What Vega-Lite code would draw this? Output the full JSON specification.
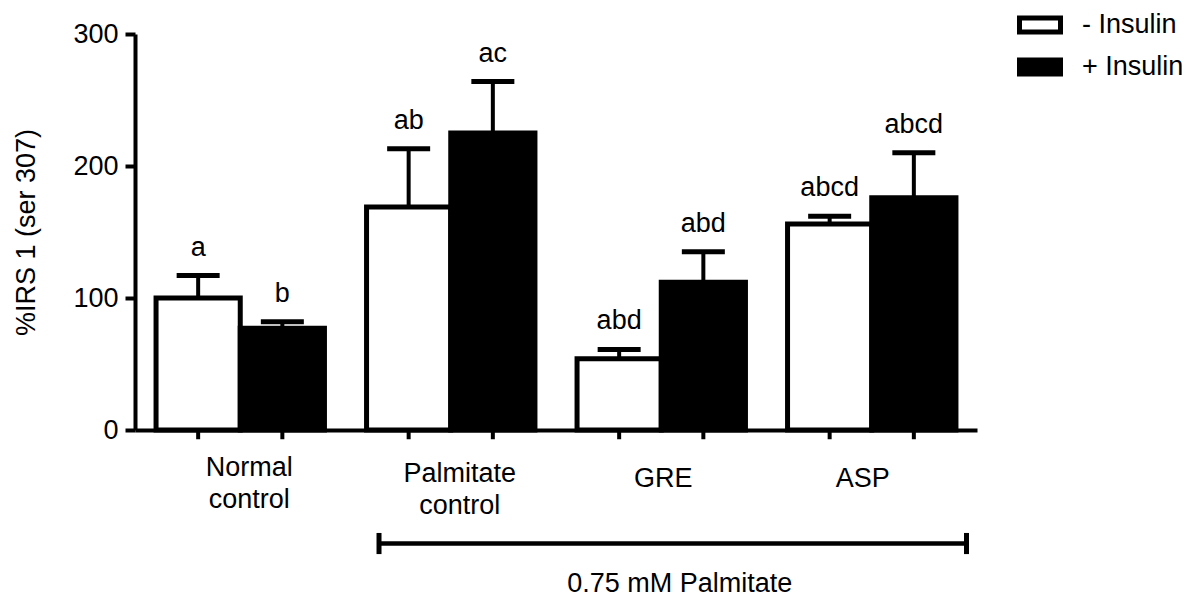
{
  "$schema": "https://vega.github.io/schema/vega-lite/v6.json",
  "width": 842,
  "height": 396,
  "autosize": {"type": "none"},
  "padding": {"left": 135, "top": 34, "right": 220, "bottom": 170},
  "background": "white",
  "config": {
    "view": {"stroke": null},
    "font": "Liberation Sans",
    "axis": {
      "grid": false,
      "domainColor": "black",
      "domainWidth": 4,
      "tickColor": "black",
      "tickWidth": 4,
      "tickSize": 10,
      "labelFont": "Liberation Sans",
      "labelFontSize": 27,
      "labelColor": "black",
      "titleFont": "Liberation Sans",
      "titleFontSize": 27,
      "titleFontWeight": "normal",
      "titleColor": "black"
    },
    "text": {"font": "Liberation Sans", "fontSize": 27, "color": "black"}
  },
  "datasets": {
    "bars": [
      {"group": "Normal control", "insulin": "- Insulin", "mean": 100, "upper": 117, "sig": "a"},
      {"group": "Normal control", "insulin": "+ Insulin", "mean": 77, "upper": 82, "sig": "b"},
      {"group": "Palmitate control", "insulin": "- Insulin", "mean": 169, "upper": 213, "sig": "ab"},
      {"group": "Palmitate control", "insulin": "+ Insulin", "mean": 225, "upper": 264, "sig": "ac"},
      {"group": "GRE", "insulin": "- Insulin", "mean": 54, "upper": 61, "sig": "abd"},
      {"group": "GRE", "insulin": "+ Insulin", "mean": 112, "upper": 135, "sig": "abd"},
      {"group": "ASP", "insulin": "- Insulin", "mean": 156, "upper": 162, "sig": "abcd"},
      {"group": "ASP", "insulin": "+ Insulin", "mean": 176, "upper": 210, "sig": "abcd"}
    ],
    "bracket": [
      {"from": "Palmitate control", "to": "ASP", "label": "0.75 mM Palmitate"}
    ]
  },
  "layer": [
    {
      "data": {"name": "bars"},
      "mark": {"type": "bar", "stroke": "black", "strokeWidth": 5, "strokeJoin": "miter"},
      "encoding": {
        "x": {
          "field": "group",
          "type": "nominal",
          "scale": {"domain": ["Normal control", "Palmitate control", "GRE", "ASP"], "paddingInner": 0.2, "paddingOuter": 0.1},
          "axis": {
            "title": null,
            "ticks": false,
            "labelAngle": 0,
            "labelPadding": {
              "condition": [
                {"test": "datum.value === 'GRE' || datum.value === 'ASP'", "value": 35},
                {"test": "datum.value === 'Palmitate control'", "value": 30}
              ],
              "value": 24
            },
            "labelOffset": {
              "condition": [
                {"test": "datum.value === 'GRE'", "value": 2},
                {"test": "datum.value === 'ASP'", "value": -9}
              ],
              "value": 9
            },
            "labelBaseline": "top",
            "labelLineHeight": 32,
            "labelExpr": "split(datum.label, ' ')"
          }
        },
        "xOffset": {
          "field": "insulin",
          "type": "nominal",
          "scale": {"domain": ["- Insulin", "+ Insulin"], "paddingInner": 0, "paddingOuter": 0}
        },
        "y": {
          "field": "mean",
          "type": "quantitative",
          "scale": {"domain": [0, 300], "nice": false},
          "axis": {"values": [0, 100, 200, 300], "title": "%IRS 1 (ser 307)", "labelPadding": 7, "titlePadding": 32}
        },
        "fill": {
          "field": "insulin",
          "type": "nominal",
          "scale": {"domain": ["- Insulin", "+ Insulin"], "range": ["white", "black"]},
          "legend": {
            "title": null,
            "orient": "none",
            "legendX": 882,
            "legendY": -32,
            "padding": 0,
            "symbolType": "M-1,-0.34H1V0.34H-1Z",
            "symbolSize": 1681,
            "symbolStrokeColor": "black",
            "symbolStrokeWidth": 5,
            "labelFont": "Liberation Sans",
            "labelFontSize": 27,
            "labelColor": "black",
            "labelOffset": 19,
            "rowPadding": 2
          }
        }
      }
    },
    {
      "data": {"name": "bars"},
      "mark": {"type": "rule", "color": "black", "strokeWidth": 4},
      "encoding": {
        "x": {"field": "group", "type": "nominal"},
        "xOffset": {"field": "insulin", "type": "nominal"},
        "y": {"field": "mean", "type": "quantitative"},
        "y2": {"field": "upper"}
      }
    },
    {
      "data": {"name": "bars"},
      "mark": {"type": "tick", "color": "black", "size": 43, "thickness": 5, "orient": "horizontal", "opacity": 1},
      "encoding": {
        "x": {"field": "group", "type": "nominal"},
        "xOffset": {"field": "insulin", "type": "nominal"},
        "y": {"field": "upper", "type": "quantitative"}
      }
    },
    {
      "data": {"name": "bars"},
      "mark": {"type": "text", "baseline": "alphabetic", "dy": -20, "fontSize": 27},
      "encoding": {
        "x": {"field": "group", "type": "nominal"},
        "xOffset": {"field": "insulin", "type": "nominal"},
        "y": {"field": "upper", "type": "quantitative"},
        "text": {"field": "sig"}
      }
    },
    {
      "data": {"name": "bars"},
      "mark": {"type": "rule", "color": "black", "strokeWidth": 4},
      "encoding": {
        "x": {"field": "group", "type": "nominal"},
        "xOffset": {"field": "insulin", "type": "nominal"},
        "y": {"datum": 0},
        "y2": {"datum": -7}
      }
    },
    {
      "data": {"name": "bracket"},
      "mark": {"type": "rule", "color": "black", "strokeWidth": 4.5},
      "encoding": {
        "x": {"field": "from", "type": "nominal", "bandPosition": 0.074},
        "x2": {"field": "to", "bandPosition": 1.0625},
        "y": {"datum": -86}
      }
    },
    {
      "data": {"name": "bracket"},
      "mark": {"type": "rule", "color": "black", "strokeWidth": 5},
      "encoding": {
        "x": {"field": "from", "type": "nominal", "bandPosition": 0.074},
        "y": {"datum": -78},
        "y2": {"datum": -94}
      }
    },
    {
      "data": {"name": "bracket"},
      "mark": {"type": "rule", "color": "black", "strokeWidth": 5},
      "encoding": {
        "x": {"field": "to", "type": "nominal", "bandPosition": 1.0625},
        "y": {"datum": -78},
        "y2": {"datum": -94}
      }
    },
    {
      "data": {"name": "bracket"},
      "mark": {"type": "text", "baseline": "middle", "fontSize": 27},
      "encoding": {
        "x": {"datum": "GRE", "type": "nominal", "bandPosition": 0.61},
        "y": {"datum": -117},
        "text": {"field": "label"}
      }
    }
  ]
}
